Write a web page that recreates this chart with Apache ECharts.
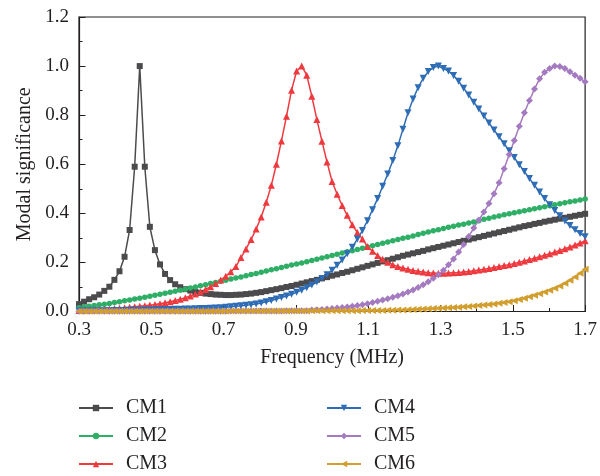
<!DOCTYPE html>
<html>
<head>
<meta charset="utf-8">
<script src="https://cdn.jsdelivr.net/npm/echarts@6/dist/echarts.min.js"></script>
<style>
  html, body { margin: 0; padding: 0; background: #fff; }
  #chart { width: 600px; height: 476px; }
</style>
</head>
<body>
<div id="chart"></div>
<script>
// Frequency sweep: 101 samples from 0.3 MHz to 1.7 MHz
const freqStart = 0.3;
const freqStep = 0.014;
const freqCount = 101;

const seriesNames = ['CM1', 'CM2', 'CM3', 'CM4', 'CM5', 'CM6'];

const cm1 = [
  0.030, 0.040, 0.050, 0.058, 0.069, 0.084, 0.101, 0.129, 0.164, 0.223, 0.332, 0.590, 1.000,
  0.590, 0.345, 0.250, 0.192, 0.153, 0.128, 0.111, 0.099, 0.091, 0.085, 0.080, 0.076, 0.073, 0.071, 0.069, 0.068, 0.067, 0.067,
  0.068, 0.069, 0.071, 0.073, 0.076, 0.079, 0.083, 0.087, 0.091, 0.095, 0.100, 0.104, 0.109, 0.114, 0.119, 0.124, 0.129, 0.135, 0.140, 0.146,
  0.151, 0.157, 0.162, 0.168, 0.174, 0.180, 0.186, 0.192, 0.198, 0.204, 0.209, 0.215, 0.221, 0.227, 0.232, 0.237, 0.242, 0.247, 0.253, 0.258,
  0.263, 0.268, 0.273, 0.278, 0.283, 0.288, 0.293, 0.298, 0.303, 0.308, 0.313, 0.318, 0.323, 0.328, 0.333, 0.338, 0.343, 0.348, 0.352, 0.357,
  0.361, 0.366, 0.370, 0.374, 0.378, 0.382, 0.386, 0.390, 0.394, 0.398
];

const cm2 = [
  0.015, 0.018, 0.021, 0.024, 0.027, 0.030, 0.033, 0.037, 0.040, 0.044, 0.047, 0.051, 0.054, 0.058, 0.062, 0.066, 0.070, 0.074, 0.078, 0.083, 0.087,
  0.091, 0.096, 0.100, 0.105, 0.109, 0.114, 0.118, 0.123, 0.127, 0.132, 0.137, 0.141, 0.146, 0.151, 0.155, 0.160, 0.165, 0.170, 0.174, 0.179,
  0.184, 0.189, 0.194, 0.198, 0.203, 0.208, 0.213, 0.218, 0.223, 0.228, 0.233, 0.238, 0.243, 0.248, 0.253, 0.258, 0.263, 0.268, 0.273, 0.278,
  0.283, 0.288, 0.293, 0.298, 0.303, 0.308, 0.314, 0.319, 0.324, 0.329, 0.333, 0.338, 0.343, 0.347, 0.352, 0.356, 0.361, 0.365, 0.370, 0.376,
  0.380, 0.385, 0.389, 0.394, 0.398, 0.402, 0.406, 0.411, 0.415, 0.419, 0.423, 0.427, 0.431, 0.435, 0.439, 0.443, 0.447, 0.450, 0.454, 0.458
];

const cm3 = [
  0.004, 0.005, 0.006, 0.007, 0.008, 0.009, 0.010, 0.012, 0.013, 0.015, 0.017, 0.019, 0.021, 0.023, 0.026, 0.029, 0.032, 0.036, 0.040, 0.045, 0.050,
  0.056, 0.063, 0.071, 0.080, 0.090, 0.101, 0.114, 0.128, 0.144, 0.162, 0.183, 0.220, 0.255, 0.293, 0.336, 0.385, 0.445, 0.514, 0.600, 0.695,
  0.796, 0.902, 0.980, 1.000, 0.963, 0.877, 0.782, 0.694, 0.609, 0.530, 0.478, 0.432, 0.392, 0.353, 0.322, 0.295, 0.265, 0.245, 0.228, 0.213,
  0.201, 0.191, 0.183, 0.177, 0.172, 0.167, 0.164, 0.161, 0.158, 0.157, 0.156, 0.156, 0.157, 0.158, 0.159, 0.161, 0.163, 0.166, 0.169, 0.172,
  0.175, 0.179, 0.183, 0.187, 0.191, 0.196, 0.201, 0.206, 0.212, 0.217, 0.223, 0.229, 0.235, 0.242, 0.249, 0.256, 0.263, 0.271, 0.279, 0.288
];

const cm4 = [
  0.002, 0.002, 0.002, 0.003, 0.003, 0.003, 0.003, 0.004, 0.004, 0.004, 0.005, 0.005, 0.005, 0.006, 0.006, 0.007, 0.007, 0.008, 0.008, 0.009, 0.009,
  0.010, 0.010, 0.011, 0.012, 0.012, 0.013, 0.014, 0.015, 0.017, 0.019, 0.021, 0.023, 0.025, 0.028, 0.031, 0.035, 0.040, 0.045, 0.051, 0.057,
  0.063, 0.070, 0.078, 0.087, 0.097, 0.108, 0.120, 0.134, 0.150, 0.168, 0.188, 0.210, 0.235, 0.262, 0.295, 0.330, 0.370, 0.415, 0.460, 0.510,
  0.560, 0.615, 0.675, 0.743, 0.810, 0.866, 0.912, 0.950, 0.978, 0.994, 1.000, 0.990, 0.980, 0.962, 0.938, 0.910, 0.882, 0.853, 0.825, 0.797,
  0.768, 0.740, 0.712, 0.684, 0.655, 0.627, 0.598, 0.570, 0.542, 0.514, 0.487, 0.460, 0.435, 0.412, 0.390, 0.369, 0.350, 0.333, 0.318, 0.305
];

const cm5 = [
  0.001, 0.001, 0.001, 0.001, 0.001, 0.001, 0.001, 0.001, 0.001, 0.001, 0.001, 0.001, 0.001, 0.001, 0.001,
  0.001, 0.001, 0.001, 0.001, 0.001, 0.001, 0.001, 0.001, 0.001, 0.001, 0.001, 0.001, 0.001, 0.001, 0.001,
  0.002, 0.002, 0.002, 0.002, 0.002, 0.002, 0.002, 0.002, 0.002, 0.002, 0.002,
  0.003, 0.003, 0.003, 0.003, 0.003,
  0.006, 0.007, 0.008, 0.010, 0.012, 0.014, 0.016, 0.018, 0.021, 0.024, 0.028, 0.032, 0.037, 0.042, 0.047,
  0.052, 0.058, 0.064, 0.071, 0.079, 0.088, 0.098, 0.109, 0.121, 0.135, 0.150, 0.168, 0.190, 0.214, 0.242, 0.273, 0.306, 0.340, 0.373, 0.405,
  0.440, 0.480, 0.525, 0.582, 0.640, 0.697, 0.755, 0.810, 0.860, 0.907, 0.948, 0.975, 0.990, 1.000, 0.998, 0.990, 0.977, 0.963, 0.950, 0.936
];

const cm6 = [
  0.001, 0.001, 0.001, 0.001, 0.001, 0.001, 0.001, 0.001, 0.001, 0.001, 0.001, 0.001, 0.001, 0.001, 0.001,
  0.001, 0.001, 0.001, 0.001, 0.001, 0.001, 0.001, 0.001, 0.001, 0.001, 0.001, 0.001, 0.001, 0.001, 0.001,
  0.002, 0.002, 0.002, 0.002, 0.002, 0.002, 0.002, 0.002, 0.002, 0.002, 0.002, 0.002, 0.002, 0.002, 0.002, 0.002,
  0.003, 0.003, 0.003, 0.003, 0.003, 0.003, 0.003, 0.003, 0.003, 0.003,
  0.004, 0.004, 0.004, 0.004, 0.004,
  0.005, 0.005, 0.006, 0.006, 0.007, 0.008, 0.009, 0.010, 0.011, 0.012, 0.013, 0.014, 0.015, 0.016, 0.017, 0.019, 0.020, 0.022, 0.024, 0.026,
  0.029, 0.031, 0.034, 0.037, 0.040, 0.044, 0.049, 0.054, 0.060, 0.066, 0.072, 0.079, 0.087, 0.095, 0.104, 0.115, 0.127, 0.141, 0.156, 0.172
];

const xTickLabels = [0.3, 0.5, 0.7, 0.9, 1.1, 1.3, 1.5, 1.7];

const freqs = [];
for (let i = 0; i < freqCount; i++) {
  freqs.push(+(freqStart + freqStep * i).toFixed(3));
}

const seriesValues = [cm1, cm2, cm3, cm4, cm5, cm6];
const colors = ['#4b4b4d', '#2fae66', '#ee3a3f', '#2e6db5', '#a47bc0', '#d29e2e'];
const symbols = ['rect', 'circle', 'triangle', 'triangle', 'diamond', 'triangle'];
const symbolSizes = [6, 5.5, 7, 7, 7, 7];
const symbolRotates = [0, 0, 0, 180, 0, 90];

const FONT = '"Liberation Serif", "DejaVu Serif", serif';
const INK = '#231f20';

const chart = echarts.init(document.getElementById('chart'), null, { renderer: 'canvas' });

const series = seriesNames.map((name, k) => ({
  name,
  type: 'line',
  xAxisIndex: 0,
  yAxisIndex: 0,
  data: freqs.map((f, i) => [f, seriesValues[k][i]]),
  symbol: symbols[k],
  symbolSize: symbolSizes[k],
  symbolRotate: symbolRotates[k],
  showSymbol: true,
  lineStyle: { color: colors[k], width: 1.5 },
  itemStyle: { color: colors[k] },
  emphasis: { disabled: true },
  animation: false
}));

const legendText = { fontFamily: FONT, fontSize: 20, color: INK, padding: [0, 0, 0, 8] };
const legendBase = {
  orient: 'vertical', top: 398, height: 100, padding: 0,
  itemWidth: 34, itemHeight: 8, itemGap: 8, textStyle: legendText, selectedMode: false
};

chart.setOption({
  animation: false,
  backgroundColor: '#fff',
  grid: {
    left: 79, right: 13, top: 17, bottom: 164.5,
    show: true, borderColor: INK, borderWidth: 1.2, backgroundColor: 'transparent'
  },
  legend: [
    Object.assign({ data: ['CM1', 'CM2', 'CM3'], left: 78 }, legendBase),
    Object.assign({ data: ['CM4', 'CM5', 'CM6'], left: 326 }, legendBase)
  ],
  xAxis: [
    {
      type: 'value', min: 0.3, max: 1.7, interval: 0.1,
      name: 'Frequency (MHz)', nameLocation: 'middle', nameGap: 36,
      nameTextStyle: { fontFamily: FONT, fontSize: 20, color: INK },
      axisLine: { show: true, lineStyle: { color: INK, width: 1.2 } },
      axisTick: { show: true, inside: true, length: 3.5, lineStyle: { color: INK } },
      axisLabel: {
        show: true, margin: 9, fontFamily: FONT, fontSize: 19, color: INK,
        customValues: xTickLabels,
        formatter: v => v.toFixed(1)
      },
      splitLine: { show: false }
    },
    {
      type: 'value', min: 0.3, max: 1.7, interval: 0.1, position: 'bottom',
      axisLine: { show: false },
      axisTick: { show: true, inside: true, length: 6.5, customValues: xTickLabels, lineStyle: { color: INK } },
      axisLabel: { show: false },
      splitLine: { show: false }
    }
  ],
  yAxis: {
    type: 'value', min: 0, max: 1.2, interval: 0.2,
    name: 'Modal significance', nameLocation: 'middle', nameGap: 44,
    nameTextStyle: { fontFamily: FONT, fontSize: 20, color: INK },
    axisLine: { show: true, lineStyle: { color: INK, width: 1.2 } },
    axisTick: { show: true, inside: true, length: 6.5, lineStyle: { color: INK } },
    minorTick: { show: true, splitNumber: 2, length: 3.5, lineStyle: { color: INK } },
    axisLabel: { margin: 10, fontFamily: FONT, fontSize: 19, color: INK, formatter: v => v.toFixed(1) },
    splitLine: { show: false }
  },
  series
});
</script>
</body>
</html>
